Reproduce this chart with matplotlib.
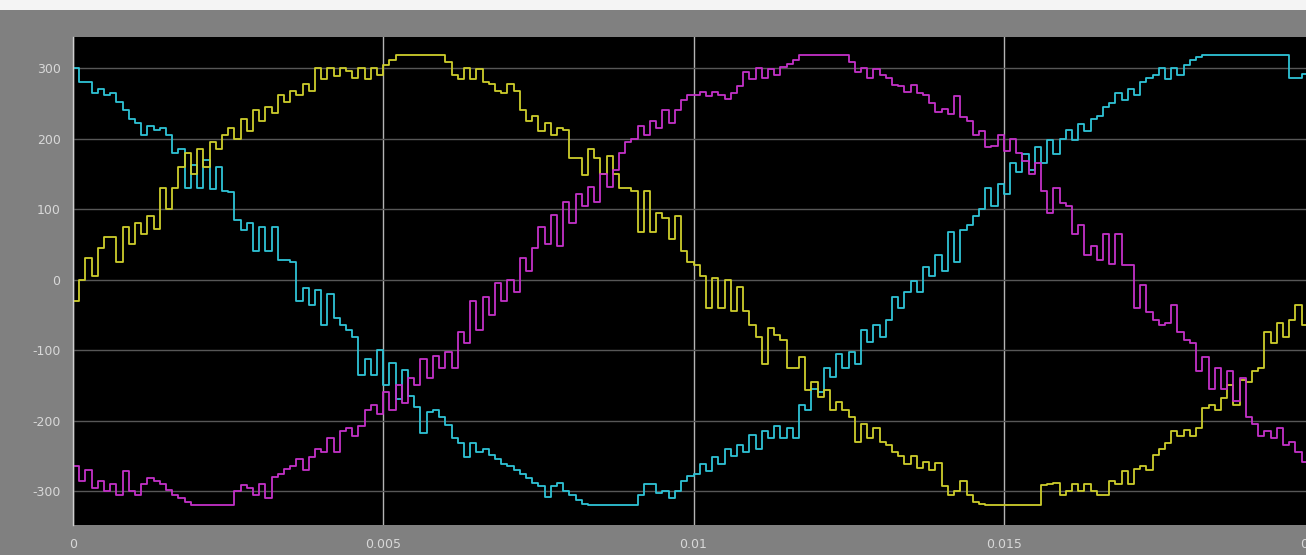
import numpy as np
import matplotlib.pyplot as plt
from matplotlib.patches import Rectangle

# sample period of the recorded phase voltages (s)
t_step = 1e-4

# phase voltages (V), one value per sample
phase_c = [300, 280, 280, 265, 270, 262, 265, 252, 240, 228,
           222, 205, 218, 212, 215, 205, 180, 185, 130, 162,
           130, 170, 128, 160, 125, 124, 85, 70, 80, 40,
           75, 40, 75, 28, 28, 25, -30, -12, -36, -15,
           -65, -20, -55, -65, -72, -82, -135, -112, -135, -100,
           -150, -118, -170, -128, -165, -180, -218, -188, -185, -195,
           -206, -225, -232, -252, -232, -245, -240, -249, -255, -262,
           -265, -270, -276, -282, -288, -292, -308, -292, -289, -300,
           -305, -312, -318, -320, -320, -320, -320, -320, -320, -320,
           -320, -305, -290, -290, -302, -300, -310, -300, -286, -278,
           -275, -262, -272, -252, -262, -240, -250, -235, -245, -220,
           -240, -215, -225, -208, -225, -210, -225, -178, -185, -155,
           -160, -125, -138, -105, -125, -102, -120, -72, -88, -65,
           -82, -58, -25, -40, -18, -2, -18, 18, 5, 35,
           12, 67, 25, 70, 78, 90, 100, 130, 105, 135,
           122, 165, 152, 178, 155, 188, 165, 198, 178, 200,
           212, 198, 220, 210, 228, 232, 245, 250, 265, 255,
           270, 262, 280, 286, 290, 300, 285, 300, 290, 305,
           312, 316, 318, 318, 318, 318, 318, 318, 318, 318,
           318, 318, 318, 318, 318, 318, 286, 286, 292, 300]

phase_a = [-30, 0, 30, 5, 45, 60, 60, 25, 75, 50,
           80, 65, 90, 72, 130, 100, 130, 160, 180, 150,
           185, 160, 195, 185, 205, 215, 200, 228, 210, 240,
           225, 245, 236, 262, 252, 268, 262, 278, 268, 300,
           285, 300, 288, 300, 296, 286, 300, 285, 300, 290,
           305, 312, 318, 318, 318, 318, 318, 318, 318, 318,
           308, 290, 285, 300, 285, 298, 280, 278, 268, 265,
           278, 268, 240, 225, 232, 210, 222, 205, 215, 212,
           172, 172, 148, 185, 172, 150, 175, 150, 130, 130,
           125, 67, 125, 67, 95, 88, 58, 90, 40, 25,
           20, 5, -40, 2, -40, 0, -45, -10, -45, -65,
           -82, -120, -68, -78, -85, -125, -126, -110, -157, -145,
           -167, -157, -185, -174, -185, -195, -230, -205, -225, -210,
           -230, -235, -245, -250, -262, -250, -267, -258, -270, -260,
           -292, -305, -300, -285, -305, -315, -318, -320, -320, -320,
           -320, -320, -320, -320, -320, -320, -291, -290, -288, -305,
           -300, -290, -300, -290, -300, -305, -305, -285, -290, -272,
           -290, -268, -265, -270, -249, -240, -232, -215, -222, -213,
           -222, -210, -182, -178, -185, -168, -150, -178, -142, -145,
           -130, -126, -75, -90, -62, -82, -58, -36, -65, -45]

phase_b = [-265, -285, -270, -295, -285, -300, -290, -305, -272, -300,
           -305, -290, -282, -285, -290, -298, -305, -310, -315, -320,
           -320, -320, -320, -320, -320, -320, -300, -291, -295, -305,
           -290, -310, -280, -275, -268, -265, -255, -270, -252, -240,
           -245, -225, -245, -215, -210, -222, -208, -185, -178, -190,
           -160, -185, -150, -175, -140, -150, -112, -140, -108, -125,
           -102, -126, -75, -90, -30, -72, -25, -50, -5, -30,
           0, -18, 30, 12, 45, 75, 50, 92, 48, 110,
           80, 122, 105, 132, 110, 150, 132, 155, 180, 195,
           200, 218, 205, 225, 215, 240, 222, 240, 255, 262,
           262, 266, 260, 266, 262, 256, 265, 275, 295, 285,
           300, 286, 298, 290, 302, 306, 312, 318, 318, 318,
           318, 318, 318, 318, 318, 308, 295, 300, 286, 298,
           290, 286, 276, 275, 266, 276, 264, 262, 250, 238,
           242, 235, 260, 230, 225, 205, 210, 188, 190, 205,
           182, 200, 180, 168, 150, 165, 125, 95, 130, 108,
           104, 65, 78, 35, 48, 28, 65, 22, 65, 20,
           20, -40, -8, -46, -58, -65, -62, -36, -75, -85,
           -90, -130, -110, -155, -126, -155, -130, -172, -140, -195,
           -205, -222, -215, -225, -210, -235, -230, -245, -258, -255]

xticks = [0, 0.005, 0.01, 0.015, 0.02]
xtick_labels = ['0', '0.005', '0.01', '0.015', '0.02']
yticks = [-300, -200, -100, 0, 100, 200, 300]

# ---------------- figure ----------------
W, H = 1306, 555
fig = plt.figure(figsize=(W / 100, H / 100), dpi=100, facecolor='#808080')
# light strip along the top edge
fig.patches.append(Rectangle((0, 1 - 10 / H), 1, 10 / H, transform=fig.transFigure,
                             facecolor='#f4f4f4', edgecolor='none', zorder=0))

ax = fig.add_axes([73 / W, 30 / H, 1241 / W, 488 / H])
ax.set_facecolor('black')

t = np.arange(len(phase_a)) * t_step
ax.plot(t, phase_c, drawstyle='steps-post', color='#2fc3d6', lw=1.3)
ax.plot(t, phase_a, drawstyle='steps-post', color='#cdcd2c', lw=1.3)
ax.plot(t, phase_b, drawstyle='steps-post', color='#c431c8', lw=1.3)

ax.set_xlim(0, 0.02)
ax.set_ylim(-348, 344)
ax.set_xticks(xticks)
ax.set_xticklabels(xtick_labels)
ax.set_yticks(yticks)
ax.set_yticklabels([str(v) for v in yticks])

# horizontal grid dim, vertical grid brighter
ax.grid(axis='y', color='#575757', lw=1.0)
ax.grid(axis='x', color='#b4b4b4', lw=1.0)
ax.set_axisbelow(True)

ax.tick_params(colors='#d8d8d8', labelsize=9, length=0, pad=9)
for side in ['top', 'right', 'bottom']:
    ax.spines[side].set_visible(False)
ax.spines['left'].set_color('#cfcfcf')
ax.spines['left'].set_linewidth(1.0)

fig.savefig('out.png', dpi=100, facecolor=fig.get_facecolor())
